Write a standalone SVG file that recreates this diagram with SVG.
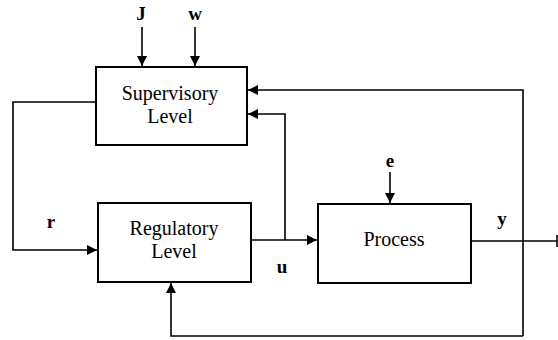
<svg xmlns="http://www.w3.org/2000/svg" width="558" height="340" viewBox="0 0 558 340">
<style>
.box{fill:#fff;stroke:#000;stroke-width:2}
.ln{fill:none;stroke:#000;stroke-width:1.6}
.t{font-family:"Liberation Serif",serif;font-size:20px;text-anchor:middle;fill:#000}
.b{font-family:"Liberation Serif",serif;font-size:19px;font-weight:bold;text-anchor:middle;fill:#000}
</style>
<defs>
<marker id="ah" viewBox="0 0 10 10" refX="10" refY="5" markerWidth="10" markerHeight="10" markerUnits="userSpaceOnUse" orient="auto">
<path d="M0,0 L10,5 L0,10 Z" fill="#000"/>
</marker>
</defs>
<rect width="558" height="340" fill="#fff"/>
<g id="connectors">
<path class="ln" d="M142,27 V66" marker-end="url(#ah)"/>
<path class="ln" d="M195,27 V66" marker-end="url(#ah)"/>
<path class="ln" d="M96,102 H13 V250 H97" marker-end="url(#ah)"/>
<path class="ln" d="M251,240 H317" marker-end="url(#ah)"/>
<path class="ln" d="M285,240 V114 H248" marker-end="url(#ah)"/>
<path class="ln" d="M390,172 V203" marker-end="url(#ah)"/>
<path class="ln" d="M471,241 H557 M557,235 V247"/>
<path class="ln" d="M523,336 V90 H248" marker-end="url(#ah)"/>
<path class="ln" d="M523,336 H171 V283" marker-end="url(#ah)"/>
</g>
<g id="supervisory">
<rect class="box" x="96" y="67" width="151" height="78"/>
<text class="t" x="170" y="100">Supervisory</text>
<text class="t" x="170" y="123">Level</text>
</g>
<g id="regulatory">
<rect class="box" x="98" y="203" width="153" height="79"/>
<text class="t" x="174" y="235">Regulatory</text>
<text class="t" x="174" y="258">Level</text>
</g>
<g id="process">
<rect class="box" x="318" y="204" width="153" height="79"/>
<text class="t" x="394" y="246">Process</text>
</g>
<g id="labels">
<text class="b" x="141" y="20">J</text>
<text class="b" x="195" y="20">w</text>
<text class="b" x="390" y="167">e</text>
<text class="b" x="51" y="228">r</text>
<text class="b" x="282" y="273">u</text>
<text class="b" x="502" y="225">y</text>
</g>
</svg>
